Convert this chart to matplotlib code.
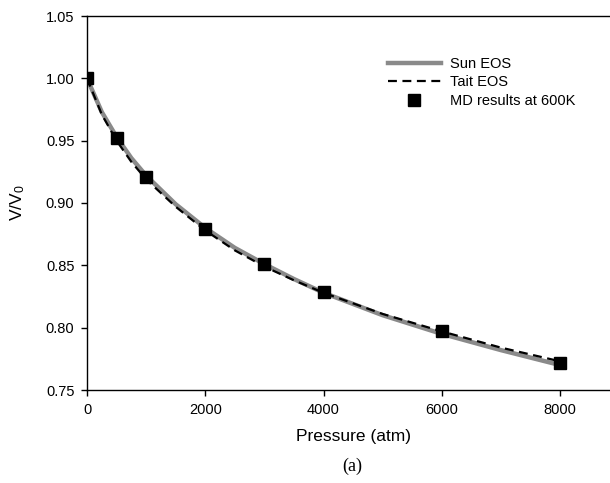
import matplotlib
matplotlib.use("Agg")
from matplotlib import pyplot as plt

plt.rcParams['font.family'] = ['Liberation Sans', 'DejaVu Sans']
plt.rcParams['mathtext.default'] = 'regular'

# pressure grid for the EOS curves (atm)
pressure = [0, 250, 500, 750, 1000, 1500, 2000, 2500, 3000, 3500, 4000, 5000, 6000, 7000, 8000]
sun_eos = [1.000, 0.973, 0.953, 0.936, 0.922, 0.899, 0.880, 0.864, 0.851, 0.839, 0.828, 0.810, 0.795, 0.782, 0.770]
tait_eos = [1.000, 0.971, 0.950, 0.933, 0.919, 0.897, 0.878, 0.862, 0.849, 0.838, 0.828, 0.811, 0.797, 0.784, 0.773]

# MD simulation points
md_pressure = [0, 500, 1000, 2000, 3000, 4000, 6000, 8000]
md_volume = [1.000, 0.952, 0.921, 0.879, 0.851, 0.829, 0.797, 0.772]

xticks = [0, 2000, 4000, 6000, 8000]
yticks = [0.75, 0.80, 0.85, 0.90, 0.95, 1.00, 1.05]

W, H = 610, 483
fig = plt.figure(figsize=(W / 100, H / 100), dpi=100)
ax = fig.add_axes([87 / W, (H - 390) / H, (W - 87) / W, (390 - 16) / H])

ax.plot(pressure, sun_eos, color='#8a8a8a', lw=3.2, label='Sun EOS', zorder=2)
ax.plot(pressure, tait_eos, color='black', lw=1.6, ls=(0, (4, 2.5)), label='Tait EOS', zorder=3)
ax.plot(md_pressure, md_volume, ls='none', marker='s', ms=9, color='black',
        label='MD results at 600K', zorder=4)

ax.set_xlim(0, (W - 87) / 0.05913)
ax.set_ylim(0.75, 1.05)
ax.set_xticks(xticks)
ax.set_yticks(yticks)
ax.set_yticklabels(['%.2f' % v for v in yticks])
ax.tick_params(direction='out', length=4, width=1, labelsize=10.5, pad=5)
ax.spines['right'].set_visible(False)
for s in ['top', 'left', 'bottom']:
    ax.spines[s].set_linewidth(1)

ax.set_ylabel('V/V$_0$', fontsize=12.5)
ax.yaxis.set_label_coords(-60 / 523, 0.5)
fig.text(354 / W, 1 - 437 / H, 'Pressure (atm)', fontsize=12.5, ha='center', va='center')
fig.text(352 / W, 1 - 466 / H, '(a)', fontsize=13, ha='center', va='center',
         family='Liberation Serif')

ax.legend(loc='upper left', bbox_to_anchor=(388 / W, 1 - 57 / H), bbox_transform=fig.transFigure,
          frameon=False, fontsize=10.5, handlelength=3.6, handletextpad=0.65,
          labelspacing=0.3, borderpad=0, borderaxespad=0)

fig.savefig('out.png', dpi=100)
